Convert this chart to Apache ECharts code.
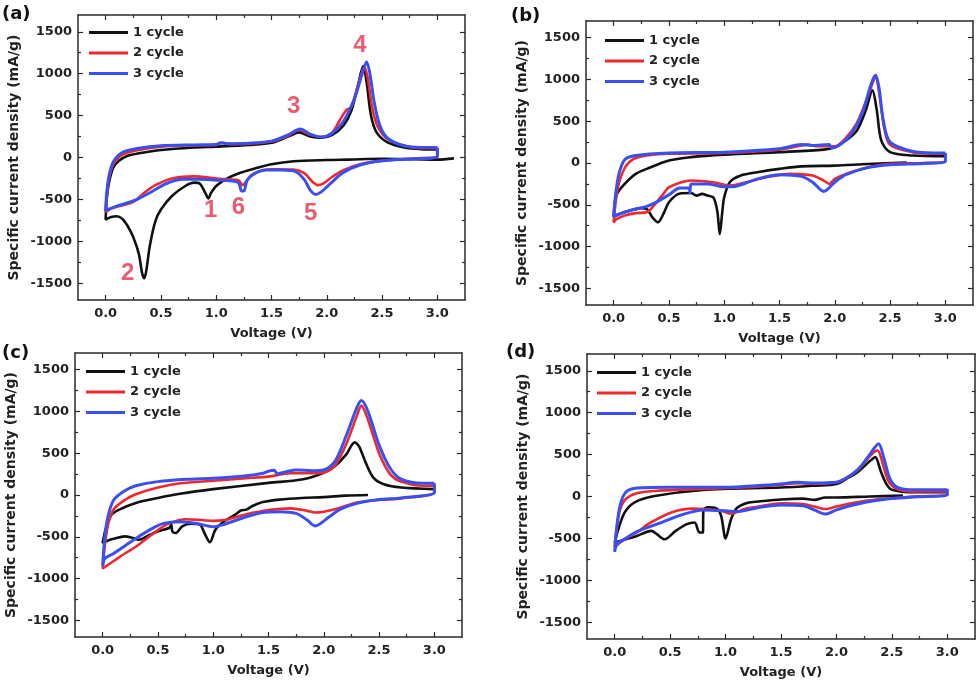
<!DOCTYPE html>
<html>
<head>
<meta charset="utf-8">
<script src="https://cdn.jsdelivr.net/npm/echarts@6.0.0/dist/echarts.min.js"></script>
<style>
html,body{margin:0;padding:0;background:#fff}
#main{width:980px;height:687px}
</style>
</head>
<body>
<div id="main"></div>
<script>
// 图例名称与面板标签
const cycleNames = ['1 cycle', '2 cycle', '3 cycle']
const panelTags = ['(a)', '(b)', '(c)', '(d)']
const cycleColors = ['#111111', '#f0282d', '#3a4ff0']

// 刻度
const xMajor = [0, 0.5, 1, 1.5, 2, 2.5, 3]
const xMinor = [0.25, 0.75, 1.25, 1.75, 2.25, 2.75]
const yMajor = [-1500, -1000, -500, 0, 500, 1000, 1500]
const yMinor = [-1250, -750, -250, 250, 750, 1250]

// (a) 各圈 [电压, 电流密度]
const aCycle1 = [[3.15,-10],[3.0,-25],[2.8,-20],[2.5,-15],[2.2,-25],[2.0,-30],[1.7,-45],[1.5,-80],[1.35,-130],[1.2,-190],[1.1,-250],[1.0,-340],[0.95,-430],[0.93,-490],[0.9,-420],[0.85,-310],[0.8,-300],[0.72,-340],[0.6,-460],[0.5,-620],[0.45,-760],[0.4,-1050],[0.37,-1330],[0.35,-1440],[0.33,-1380],[0.3,-1150],[0.25,-950],[0.2,-820],[0.15,-730],[0.1,-700],[0.05,-710],[0.0,-740],
  [0.01,-500],[0.03,-300],[0.07,-120],[0.12,-40],[0.2,20],[0.3,50],[0.5,90],[0.8,120],[1.0,130],[1.3,150],[1.5,175],[1.65,250],[1.75,300],[1.85,250],[1.95,235],[2.05,270],[2.15,380],[2.22,550],[2.28,850],[2.33,1090],[2.36,900],[2.4,500],[2.45,300],[2.55,180],[2.7,120],[2.85,100],[3.0,95]]
const aCycle2 = [[3.0,110],[3.0,10],[2.8,-10],[2.5,-40],[2.3,-80],[2.15,-150],[2.05,-230],[1.97,-310],[1.92,-330],[1.87,-290],[1.8,-190],[1.7,-145],[1.5,-140],[1.4,-160],[1.32,-210],[1.27,-290],[1.24,-330],[1.2,-270],[1.1,-260],[1.0,-250],[0.8,-225],[0.6,-250],[0.45,-330],[0.35,-420],[0.25,-530],[0.15,-570],[0.05,-610],[0.0,-650],
  [0.01,-450],[0.03,-250],[0.07,-80],[0.15,30],[0.3,90],[0.5,130],[0.8,145],[1.0,150],[1.03,175],[1.08,170],[1.15,160],[1.3,165],[1.5,190],[1.65,260],[1.75,330],[1.85,270],[1.95,245],[2.05,300],[2.12,450],[2.18,570],[2.22,600],[2.28,850],[2.34,1080],[2.37,950],[2.41,600],[2.46,370],[2.55,220],[2.7,140],[2.85,110],[3.0,110]]
const aCycle3 = [[3.0,120],[3.0,15],[2.8,-15],[2.5,-40],[2.3,-90],[2.15,-180],[2.05,-290],[1.95,-410],[1.9,-440],[1.85,-390],[1.8,-270],[1.72,-170],[1.6,-150],[1.45,-150],[1.35,-190],[1.28,-270],[1.25,-400],[1.23,-400],[1.2,-300],[1.1,-275],[1.0,-270],[0.85,-260],[0.7,-260],[0.55,-310],[0.4,-420],[0.3,-490],[0.2,-540],[0.1,-580],[0.0,-630],
  [0.01,-420],[0.03,-220],[0.07,-50],[0.15,60],[0.3,110],[0.5,140],[0.8,150],[1.0,155],[1.05,175],[1.1,165],[1.3,170],[1.5,195],[1.65,270],[1.76,340],[1.85,280],[1.95,245],[2.05,290],[2.15,430],[2.25,700],[2.32,1000],[2.36,1140],[2.39,1000],[2.43,650],[2.48,380],[2.55,230],[2.7,140],[2.85,120],[3.0,120]]
// (a) 峰编号 [电压, 电流密度, 编号]
const aPeakMarks = [[0.95,-630,'1'],[0.2,-1380,'2'],[1.70,605,'3'],[2.30,1342,'4'],[1.855,-662,'5'],[1.20,-590,'6']]

// (b)
const bCycle1 = [[2.65,5],[2.3,-12],[2.0,-32],[1.7,-40],[1.5,-70],[1.3,-110],[1.15,-150],[1.05,-230],[1.0,-410],[0.98,-620],[0.96,-850],[0.94,-600],[0.92,-470],[0.9,-410],[0.85,-390],[0.8,-370],[0.75,-390],[0.7,-360],[0.6,-365],[0.5,-470],[0.45,-610],[0.4,-710],[0.35,-650],[0.3,-550],[0.25,-540],[0.15,-570],[0.05,-610],[0.0,-645],
  [0.01,-480],[0.03,-370],[0.1,-250],[0.2,-130],[0.3,-70],[0.5,30],[0.7,70],[1.0,100],[1.5,130],[1.9,160],[2.0,190],[2.1,270],[2.2,390],[2.28,630],[2.34,870],[2.38,630],[2.42,270],[2.5,130],[2.7,90],[3.0,80]]
const bCycle2 = [[3.0,110],[3.0,20],[2.8,0],[2.5,-10],[2.3,-50],[2.1,-130],[2.0,-190],[1.95,-250],[1.9,-210],[1.8,-150],[1.6,-130],[1.4,-165],[1.2,-230],[1.05,-270],[0.9,-230],[0.7,-210],[0.5,-290],[0.45,-370],[0.35,-530],[0.3,-590],[0.2,-600],[0.1,-630],[0.03,-670],[0.0,-710],
  [0.02,-450],[0.05,-230],[0.1,-60],[0.15,20],[0.2,60],[0.3,90],[0.5,110],[1.0,120],[1.5,160],[1.7,210],[1.75,220],[1.85,200],[2.0,200],[2.1,300],[2.2,480],[2.3,800],[2.37,1020],[2.4,850],[2.45,400],[2.5,220],[2.7,130],[2.9,110],[3.0,110]]
const bCycle3 = [[3.0,120],[3.0,20],[2.8,-5],[2.5,-20],[2.3,-55],[2.1,-140],[2.0,-230],[1.9,-340],[1.8,-230],[1.7,-160],[1.5,-140],[1.3,-190],[1.1,-280],[1.0,-285],[0.85,-250],[0.7,-250],[0.69,-360],[0.685,-300],[0.6,-300],[0.5,-380],[0.4,-460],[0.3,-520],[0.2,-550],[0.1,-590],[0.0,-640],
  [0.02,-350],[0.05,-120],[0.1,40],[0.2,90],[0.5,120],[1.0,130],[1.5,170],[1.7,220],[1.8,210],[1.95,220],[1.97,180],[2.05,220],[2.15,350],[2.25,600],[2.33,950],[2.37,1050],[2.4,900],[2.44,500],[2.5,250],[2.7,140],[2.9,120],[3.0,120]]

// (c)
const cCycle1 = [[2.4,0],[2.2,-8],[2.0,-25],[1.8,-35],[1.6,-55],[1.45,-85],[1.35,-135],[1.3,-175],[1.25,-185],[1.2,-235],[1.1,-315],[1.02,-415],[0.97,-565],[0.92,-455],[0.88,-355],[0.8,-345],[0.72,-375],[0.66,-455],[0.63,-435],[0.62,-355],[0.6,-395],[0.5,-435],[0.4,-495],[0.33,-535],[0.25,-505],[0.2,-495],[0.1,-525],[0.05,-545],[0.0,-575],
  [0.03,-395],[0.08,-235],[0.15,-175],[0.3,-95],[0.5,-35],[0.7,15],[1.0,70],[1.5,145],[1.8,185],[2.0,265],[2.1,345],[2.2,480],[2.28,630],[2.32,580],[2.38,385],[2.45,205],[2.55,125],[2.7,90],[3.0,70]]
const cCycle2 = [[3.0,110],[3.0,30],[2.7,-40],[2.5,-60],[2.3,-90],[2.2,-130],[2.1,-170],[2.0,-200],[1.92,-210],[1.85,-190],[1.7,-160],[1.5,-180],[1.3,-230],[1.1,-300],[1.0,-310],[0.9,-300],[0.75,-290],[0.6,-340],[0.5,-420],[0.4,-520],[0.3,-620],[0.2,-700],[0.1,-790],[0.0,-880],
  [0.02,-600],[0.05,-350],[0.1,-170],[0.2,-60],[0.3,10],[0.5,90],[0.7,140],[1.0,170],[1.3,200],[1.5,220],[1.7,260],[1.9,260],[2.0,270],[2.1,350],[2.2,600],[2.3,950],[2.34,1070],[2.4,900],[2.5,500],[2.6,250],[2.7,160],[2.9,110],[3.0,110]]
const cCycle3 = [[3.0,140],[3.0,30],[2.7,-35],[2.5,-55],[2.3,-100],[2.15,-170],[2.05,-260],[1.92,-370],[1.85,-300],[1.75,-220],[1.6,-200],[1.45,-210],[1.3,-260],[1.1,-350],[1.0,-380],[0.85,-340],[0.7,-320],[0.55,-340],[0.45,-400],[0.3,-520],[0.2,-610],[0.1,-700],[0.02,-760],[0.0,-850],
  [0.02,-500],[0.05,-250],[0.1,-60],[0.2,50],[0.3,110],[0.5,160],[0.8,190],[1.0,200],[1.3,230],[1.45,260],[1.5,285],[1.55,295],[1.58,255],[1.65,275],[1.75,300],[1.9,290],[2.0,300],[2.1,400],[2.2,700],[2.3,1050],[2.34,1130],[2.4,1000],[2.5,600],[2.6,320],[2.7,190],[2.9,140],[3.0,140]]

// (d)
const dCycle1 = [[2.6,10],[2.3,0],[2.0,-12],[1.9,-12],[1.8,-40],[1.7,-25],[1.5,-35],[1.3,-60],[1.2,-75],[1.1,-140],[1.05,-270],[1.0,-500],[0.96,-230],[0.92,-145],[0.84,-130],[0.8,-160],[0.795,-430],[0.765,-430],[0.72,-310],[0.65,-330],[0.55,-410],[0.45,-510],[0.38,-450],[0.33,-410],[0.2,-470],[0.1,-510],[0.0,-550],
  [0.03,-400],[0.09,-190],[0.18,-70],[0.36,5],[0.8,78],[1.5,107],[1.8,130],[2.0,150],[2.1,220],[2.2,300],[2.3,420],[2.35,470],[2.4,300],[2.45,150],[2.5,80],[2.7,50],[3.0,50]]
const dCycle2 = [[3.0,60],[3.0,20],[2.7,0],[2.5,-20],[2.3,-45],[2.1,-90],[2.0,-120],[1.9,-150],[1.8,-120],[1.7,-90],[1.5,-80],[1.3,-120],[1.17,-150],[1.05,-205],[0.96,-170],[0.7,-145],[0.51,-190],[0.3,-330],[0.21,-420],[0.1,-500],[0.0,-600],
  [0.02,-350],[0.05,-150],[0.1,-30],[0.2,40],[0.4,70],[0.8,90],[1.2,110],[1.5,140],[1.65,160],[1.8,150],[2.0,170],[2.1,230],[2.2,320],[2.3,480],[2.37,550],[2.42,380],[2.47,180],[2.55,90],[2.7,60],[3.0,60]]
const dCycle3 = [[3.0,90],[3.0,20],[2.7,-5],[2.5,-25],[2.3,-60],[2.1,-120],[2.0,-160],[1.9,-210],[1.8,-160],[1.7,-110],[1.5,-100],[1.3,-130],[1.1,-180],[1.0,-170],[0.8,-160],[0.6,-220],[0.4,-320],[0.2,-420],[0.1,-500],[0.02,-570],[0.0,-660],
  [0.02,-350],[0.05,-100],[0.1,50],[0.2,100],[0.5,110],[1.0,110],[1.3,130],[1.5,150],[1.65,170],[1.8,160],[2.0,170],[2.1,230],[2.2,330],[2.3,500],[2.38,630],[2.43,450],[2.48,220],[2.55,110],[2.7,80],[3.0,80]]

const panelData = [
  [aCycle1, aCycle2, aCycle3],
  [bCycle1, bCycle2, bCycle3],
  [cCycle1, cCycle2, cCycle3],
  [dCycle1, dCycle2, dCycle3]
]

// 布局 (像素)
const gridBoxes = [
  {left: 78, top: 15, width: 387, height: 285},
  {left: 586, top: 21, width: 387, height: 284},
  {left: 75, top: 353, width: 387, height: 284},
  {left: 587, top: 354, width: 388, height: 285}
]
const legendPos = [[89, 26], [605, 34], [86, 365], [597, 366]]
const tagPos = [[2, 5], [511, 7], [2, 344], [506, 343]]

const FONT = 'DejaVu Sans'
const AXIS_COLOR = '#2a2a2a'

const option = {
  animation: false,
  backgroundColor: '#fff',
  title: [],
  legend: [],
  grid: [],
  xAxis: [],
  yAxis: [],
  series: []
}

gridBoxes.forEach((box, gi) => {
  option.grid.push(Object.assign({containLabel: false}, box))

  option.title.push({
    text: panelTags[gi],
    left: tagPos[gi][0],
    top: tagPos[gi][1],
    padding: 0,
    textStyle: {fontFamily: FONT, fontSize: 18, fontWeight: 'bold', color: '#111'}
  })

  option.legend.push({
    data: cycleNames,
    orient: 'vertical',
    left: legendPos[gi][0],
    top: legendPos[gi][1],
    padding: 0,
    icon: 'rect',
    itemWidth: 39,
    itemHeight: 3,
    itemGap: 7.5,
    selectedMode: false,
    textStyle: {fontFamily: FONT, fontSize: 13, fontWeight: 'bold', color: '#222'}
  })

  // x 轴: 下主刻度, 下次刻度, 上主刻度, 上次刻度
  const xs = [
    {position: 'bottom', ticks: xMajor, len: 5, line: true, label: true},
    {position: 'bottom', ticks: xMinor, len: 3, line: false, label: false},
    {position: 'top', ticks: xMajor, len: 5, line: true, label: false},
    {position: 'top', ticks: xMinor, len: 3, line: false, label: false}
  ]
  xs.forEach(a => {
    option.xAxis.push({
      type: 'value',
      gridIndex: gi,
      position: a.position,
      min: -0.25,
      max: 3.25,
      name: a.label ? 'Voltage (V)' : '',
      nameLocation: 'middle',
      nameGap: 27,
      nameTextStyle: {fontFamily: FONT, fontSize: 13, fontWeight: 'bold', color: '#222'},
      axisLine: {show: a.line, onZero: false, lineStyle: {color: AXIS_COLOR, width: 1.5}},
      axisTick: {show: true, inside: true, length: a.len, customValues: a.ticks, lineStyle: {color: AXIS_COLOR, width: 1.2}},
      minorTick: {show: false},
      axisLabel: {
        show: a.label,
        customValues: xMajor,
        margin: 7,
        fontFamily: FONT, fontSize: 13, fontWeight: 'bold', color: '#222',
        formatter: v => v.toFixed(1)
      },
      splitLine: {show: false}
    })
  })

  // y 轴: 左主刻度, 左次刻度, 右主刻度, 右次刻度
  const ys = [
    {position: 'left', ticks: yMajor, len: 5, line: true, label: true},
    {position: 'left', ticks: yMinor, len: 3, line: false, label: false},
    {position: 'right', ticks: yMajor, len: 5, line: true, label: false},
    {position: 'right', ticks: yMinor, len: 3, line: false, label: false}
  ]
  ys.forEach(a => {
    option.yAxis.push({
      type: 'value',
      gridIndex: gi,
      position: a.position,
      min: -1700,
      max: 1700,
      name: a.label ? 'Specific current density (mA/g)' : '',
      nameLocation: 'middle',
      nameRotate: 90,
      nameGap: 57,
      nameTextStyle: {fontFamily: FONT, fontSize: 14, fontWeight: 'bold', color: '#222'},
      axisLine: {show: a.line, onZero: false, lineStyle: {color: AXIS_COLOR, width: 1.5}},
      axisTick: {show: true, inside: true, length: a.len, customValues: a.ticks, lineStyle: {color: AXIS_COLOR, width: 1.2}},
      minorTick: {show: false},
      axisLabel: {
        show: a.label,
        customValues: yMajor,
        margin: 6,
        fontFamily: FONT, fontSize: 13, fontWeight: 'bold', color: '#222',
        formatter: v => String(v)
      },
      splitLine: {show: false}
    })
  })

  panelData[gi].forEach((curve, ci) => {
    option.series.push({
      name: cycleNames[ci],
      type: 'line',
      xAxisIndex: gi * 4,
      yAxisIndex: gi * 4,
      data: curve,
      showSymbol: false,
      symbol: 'none',
      smooth: 0.3,
      color: cycleColors[ci],
      lineStyle: {color: cycleColors[ci], width: ci === 2 ? 3 : 2.6},
      z: 2 + ci
    })
  })
})

// (a) 峰编号
option.series.push({
  type: 'scatter',
  xAxisIndex: 0,
  yAxisIndex: 0,
  data: aPeakMarks,
  symbol: 'circle',
  symbolSize: 2,
  itemStyle: {color: 'rgba(0,0,0,0)'},
  label: {
    show: true,
    position: 'inside',
    formatter: p => p.value[2],
    fontFamily: 'Liberation Sans',
    fontSize: 24,
    fontWeight: 'bold',
    color: '#e5344c'
  },
  z: 10
})

const myChart = echarts.init(document.getElementById('main'), null, {renderer: 'canvas'})
myChart.setOption(option)
</script>
</body>
</html>
